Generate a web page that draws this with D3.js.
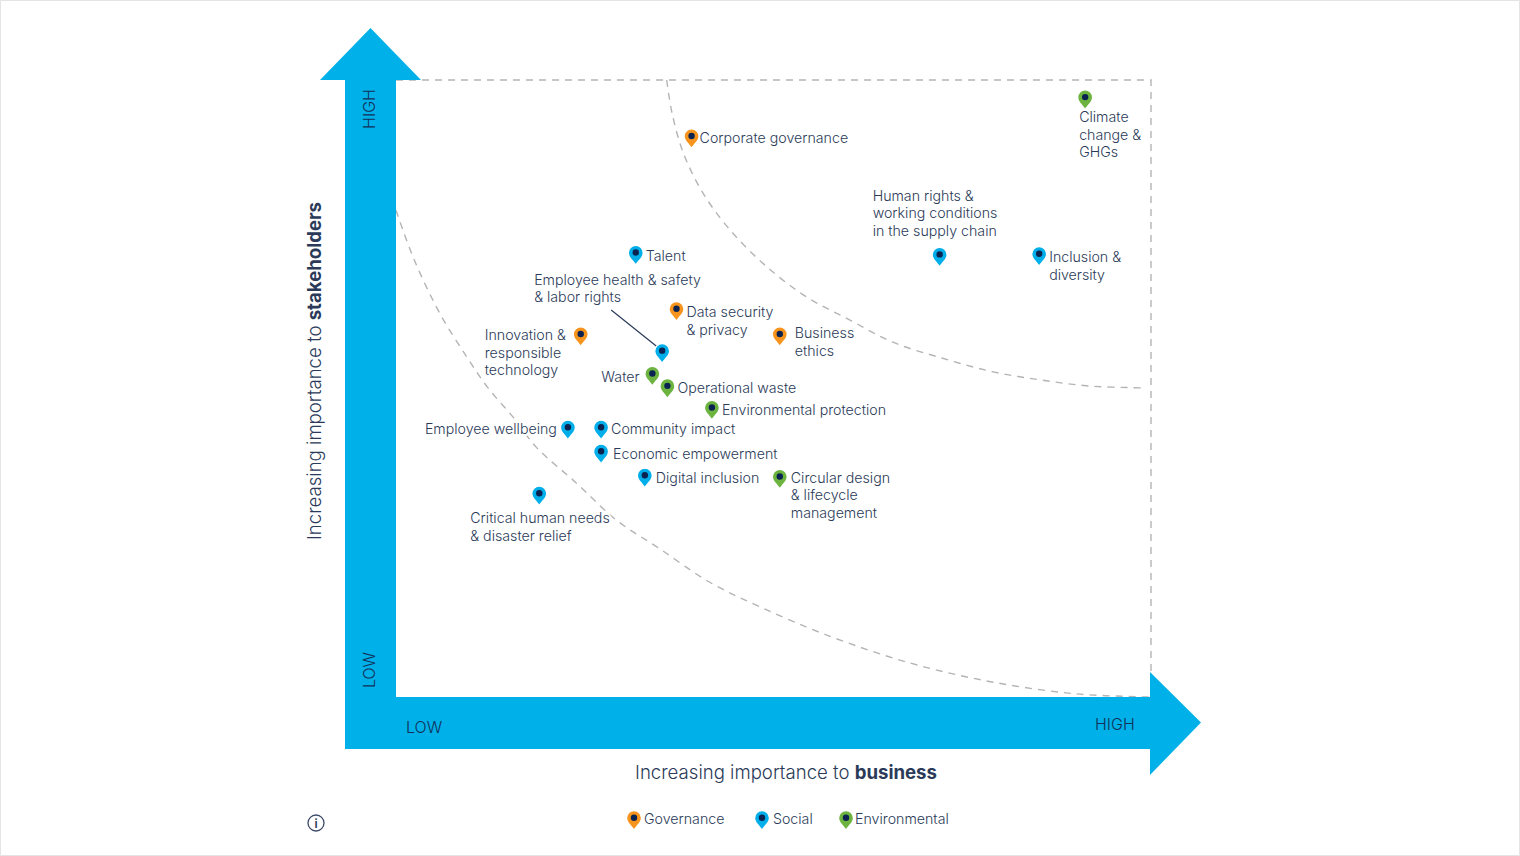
<!DOCTYPE html>
<html>
<head>
<meta charset="utf-8">
<title>Materiality matrix</title>
<script src="https://cdn.jsdelivr.net/npm/d3@7"></script>
<style>
  html, body { margin: 0; padding: 0; background: #fff; }
  svg { display: block; }
  text { font-family: Inter, "Noto Sans", sans-serif; fill: #2a3a58; }
</style>
</head>
<body>
<div id="chart"></div>
<script>
// --- Data (0-100 on both axes) ---
const topics = [
  'Corporate governance', 'Climate change & GHGs', 'Human rights', 'Inclusion & diversity',
  'Talent', 'Data security & privacy', 'Business ethics', 'Innovation',
  'Employee health & safety', 'Water', 'Operational waste', 'Environmental protection',
  'Employee wellbeing', 'Community impact', 'Economic empowerment', 'Digital inclusion',
  'Circular design', 'Critical human needs'
];
const topicLabels = [
  ['Corporate governance'], ['Climate', 'change &', 'GHGs'],
  ['Human rights &', 'working conditions', 'in the supply chain'], ['Inclusion &', 'diversity'],
  ['Talent'], ['Data security', '& privacy'], ['Business', 'ethics'],
  ['Innovation &', 'responsible', 'technology'], ['Employee health & safety', '& labor rights'],
  ['Water'], ['Operational waste'], ['Environmental protection'],
  ['Employee wellbeing'], ['Community impact'], ['Economic empowerment'], ['Digital inclusion'],
  ['Circular design', '& lifecycle', 'management'], ['Critical human needs', '& disaster relief']
];
const businessValues = [39.2, 91.4, 72.1, 85.3, 31.8, 37.2, 50.9, 24.5, 35.3, 34.0, 36.0, 41.9, 22.8, 27.2, 27.2, 33.0, 50.9, 19.0];
const stakeholderValues = [89.1, 95.4, 69.9, 70.0, 70.2, 61.1, 57.0, 57.0, 54.3, 50.6, 48.6, 45.1, 41.9, 41.9, 38.0, 34.1, 33.9, 31.2];
const topicGroups = ['Governance', 'Environmental', 'Social', 'Social', 'Social', 'Governance', 'Governance', 'Governance',
  'Social', 'Environmental', 'Environmental', 'Environmental', 'Social', 'Social', 'Social', 'Social', 'Environmental', 'Social'];
const groups = ['Governance', 'Social', 'Environmental'];

// boundaries between the three zones
const upperCurveX = [35.9, 36.6, 38.1, 40.7, 44.3, 49.2, 54.5, 60.2, 65.9, 72.5, 79.2, 85.4, 92.0, 99.3];
const upperCurveY = [100, 94.7, 88.2, 81.7, 75.7, 69.7, 64.8, 61.1, 57.5, 54.9, 52.7, 51.4, 50.4, 50.1];
const lowerCurveX = [0, 2.3, 5.8, 9.4, 12.2, 15.5, 18.6, 23.9, 29.2, 35.0, 41.6, 48.3, 57.2, 68.2, 79.2, 90.3, 100];
const lowerCurveY = [78.9, 71.2, 62.2, 55.1, 50.1, 45.4, 40.5, 34.7, 28.7, 24.0, 18.6, 14.6, 10.0, 5.5, 2.4, 0.5, 0];

// --- Layout ---
const width = 1520, height = 856;
const plot = { left: 396, right: 1150, top: 80, bottom: 697 };
const shaft = 51, headLen = 51;
const color = d3.scaleOrdinal().domain(groups).range(['#f7941d', '#00aeea', '#6cb33f']);
const arrowColor = '#00b0e8', dotColor = '#0b2350', dashColor = '#b4b4b4';

// label offset from the pin tip: [dx, dy of first line centre]
const labelOffsets = [
  [8, -9], [-6, 9], [-67, -70], [10, -8], [10, -8], [10, -8], [15, -12], [-96, -10], [-128, -82],
  [-51, -8], [10, -9], [10, -9], [-143, -9], [10, -9], [12, -9], [11, -9], [11, -10], [-69, 14]
];

const x = d3.scaleLinear().domain([0, 100]).range([plot.left, plot.right]);
const y = d3.scaleLinear().domain([0, 100]).range([plot.bottom, plot.top]);

const svg = d3.select('#chart').append('svg')
  .attr('width', width)
  .attr('height', height);

// page frame
svg.append('rect')
  .attr('x', 0.5).attr('y', 0.5)
  .attr('width', width - 1).attr('height', height - 1)
  .attr('fill', '#fff').attr('stroke', '#e4e4e4');

// --- Dashed frame and zone curves ---
const dashed = (sel) => sel.attr('fill', 'none')
  .attr('stroke', dashColor)
  .attr('stroke-width', 1.4)
  .attr('stroke-dasharray', '7,6');

svg.append('path').call(dashed)
  .attr('d', d3.line()([[x(0), y(100)], [x(100) + 1, y(100)], [x(100) + 1, y(0)]]));

const curve = d3.line().x(d => x(d[0])).y(d => y(d[1])).curve(d3.curveCatmullRom.alpha(0.5));
svg.append('path').call(dashed).attr('d', curve(d3.zip(upperCurveX, upperCurveY)));
svg.append('path').call(dashed).attr('d', curve(d3.zip(lowerCurveX, lowerCurveY)));

// --- Axis arrows ---
const l = plot.left - shaft, r = plot.right, t = plot.top, b = plot.bottom + shaft + 1;
svg.append('path')
  .attr('fill', arrowColor)
  .attr('d', d3.line()([
    [l, t], [l - 25, t], [l + shaft / 2, t - headLen - 1], [plot.left + 25, t], [plot.left, t],
    [plot.left, plot.bottom], [r, plot.bottom], [r, plot.bottom - 25],
    [r + headLen, plot.bottom + shaft / 2], [r, b + 26], [r, b], [l, b]
  ]) + 'Z');

const axisText = (sel, size) => sel.attr('font-size', size).attr('font-weight', 300).style('fill', '#12305a');

svg.append('text').call(axisText, 16).text('HIGH')
  .attr('text-anchor', 'middle')
  .attr('transform', `translate(375,${t + 29}) rotate(-90)`);
svg.append('text').call(axisText, 16).text('LOW')
  .attr('text-anchor', 'middle')
  .attr('transform', `translate(375,${plot.bottom - 27}) rotate(-90)`);
svg.append('text').call(axisText, 16).text('LOW').attr('x', 406).attr('y', 733);
svg.append('text').call(axisText, 16).text('HIGH').attr('x', 1095).attr('y', 730);

// --- Axis titles ---
const yTitle = svg.append('text')
  .attr('font-size', 18.6).attr('font-weight', 300)
  .attr('text-anchor', 'middle')
  .attr('transform', 'translate(321,371) rotate(-90)');
yTitle.append('tspan').text('Increasing importance to ');
yTitle.append('tspan').attr('font-weight', 700).text('stakeholders');

const xTitle = svg.append('text')
  .attr('font-size', 18.6).attr('font-weight', 300)
  .attr('text-anchor', 'middle')
  .attr('x', 786).attr('y', 779);
xTitle.append('tspan').text('Increasing importance to ');
xTitle.append('tspan').attr('font-weight', 700).text('business');

// --- Pins, drawn with the tip at the origin ---
const pinPath = 'M0,0 C-2.2,-3.6 -6.8,-6.6 -6.8,-11 A6.8,6.8 0 1 1 6.8,-11 C6.8,-6.6 2.2,-3.6 0,0 Z';
function addPin(parent, group, px, py) {
  const g = parent.append('g').attr('transform', `translate(${px},${py})`);
  g.append('path').attr('d', pinPath).attr('fill', color(group));
  g.append('circle').attr('cy', -11.3).attr('r', 3.2).attr('fill', dotColor);
}

// leader line for employee health & safety
const leaderIndex = topics.indexOf('Employee health & safety');
svg.append('line')
  .attr('x1', x(businessValues[leaderIndex]) - 51).attr('y1', y(stakeholderValues[leaderIndex]) - 52)
  .attr('x2', x(businessValues[leaderIndex]) - 6).attr('y2', y(stakeholderValues[leaderIndex]) - 16)
  .attr('stroke', '#2a3a58').attr('stroke-width', 1.2);

// labels knock the dashed curves out behind them, so they go down before the pins
topics.forEach((topic, i) => {
  const px = x(businessValues[i]), py = y(stakeholderValues[i]);
  const label = svg.append('text')
    .attr('font-size', 14.2).attr('font-weight', 350)
    .style('stroke', '#fff').style('stroke-width', 4).style('paint-order', 'stroke');
  topicLabels[i].forEach((line, j) => {
    label.append('tspan')
      .attr('x', px + labelOffsets[i][0])
      .attr('y', py + labelOffsets[i][1] + 5 + j * 17.5)
      .text(line);
  });
});

topics.forEach((topic, i) => {
  addPin(svg, topicGroups[i], x(businessValues[i]), y(stakeholderValues[i]));
});

// --- Legend ---
const legendPins = [634, 762, 846], legendText = [644, 773, 855];
groups.forEach((g, i) => {
  addPin(svg, g, legendPins[i], 829);
  svg.append('text').attr('x', legendText[i]).attr('y', 824)
    .attr('font-size', 14.2).attr('font-weight', 350).text(g);
});

// --- Info icon ---
const info = svg.append('g').attr('transform', 'translate(316,823)');
info.append('circle').attr('r', 8).attr('fill', 'none').attr('stroke', '#3b4a66').attr('stroke-width', 1.3);
info.append('text').attr('text-anchor', 'middle').attr('y', 4.5)
  .attr('font-size', 12).attr('font-weight', 600).text('i');
</script>
</body>
</html>
